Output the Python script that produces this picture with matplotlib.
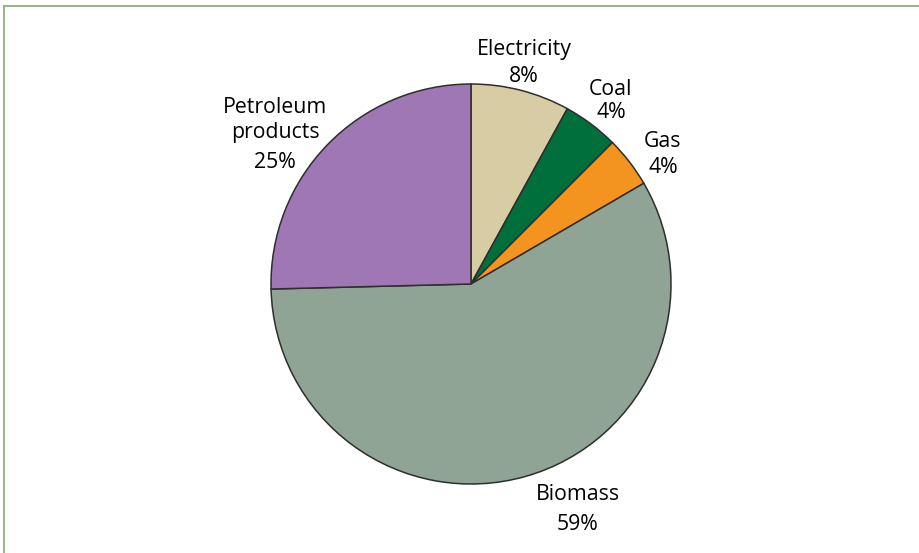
import matplotlib
matplotlib.use("Agg")
import matplotlib.pyplot as plt
from matplotlib.lines import Line2D

# Data
categories = ["Electricity", "Coal", "Gas", "Biomass", "Petroleum\nproducts"]
shares = [8.0, 4.5, 4.1, 58.0, 25.4]
pct_labels = ["8%", "4%", "4%", "59%", "25%"]
colors = ["#d8cca5", "#006f3c", "#f39420", "#8fa495", "#9e77b4"]

W, H = 920, 553
fig = plt.figure(figsize=(W / 100, H / 100), dpi=100)
ax = fig.add_axes([0, 0, 1, 1])

cx, cy, r = 471, H - 284, 200
ax.pie(shares, colors=colors, startangle=90, counterclock=False,
       center=(cx, cy), radius=r,
       wedgeprops=dict(edgecolor="#2e2e2e", linewidth=1.1))
ax.set_xlim(0, W)
ax.set_ylim(0, H)
ax.set_aspect("equal")
ax.set_axis_off()

# label positions in pixel coordinates (x center, name baseline, pct baseline)
label_pos = [(524, 55, 82), (611, 95, 118), (663, 147, 173),
             (578, 500, 530), (275, 113, 168)]
font = dict(family=["Open Sans", "DejaVu Sans"], fontsize=15.3, color="#000000")
for name, pct, (x, yb1, yb2) in zip(categories, pct_labels, label_pos):
    if "\n" in name:
        l1, l2 = name.split("\n")
        ax.text(x, H - yb1, l1, ha="center", va="baseline", **font)
        ax.text(x, H - 138, l2, ha="center", va="baseline", **font)
    else:
        ax.text(x, H - yb1, name, ha="center", va="baseline", **font)
    ax.text(x, H - yb2, pct, ha="center", va="baseline", **font)

# frame lines (top and left only)
bc = "#8fae80"
fig.add_artist(Line2D([4 / W, 1], [1 - 6 / H, 1 - 6 / H], transform=fig.transFigure,
                      color=bc, linewidth=1.3))
fig.add_artist(Line2D([4 / W, 4 / W], [0, 1 - 6 / H], transform=fig.transFigure,
                      color=bc, linewidth=1.3))

fig.savefig("out.png", dpi=100, facecolor="white")
